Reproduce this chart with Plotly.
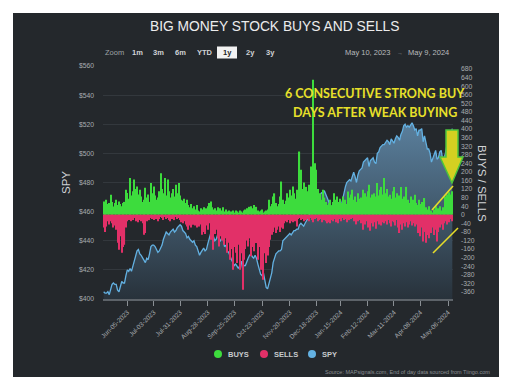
import plotly.graph_objects as go
import pandas as pd
import numpy as np

# ---------------- data ----------------
holidays = ["2023-05-29", "2023-06-19", "2023-07-04", "2023-09-04", "2023-11-23",
            "2023-12-25", "2024-01-01", "2024-01-15", "2024-02-19", "2024-03-29"]
dates = pd.bdate_range("2023-05-10", "2024-05-09")
dates = dates[~dates.isin(pd.to_datetime(holidays))]

tick_dates = ["2023-06-05", "2023-07-03", "2023-07-31", "2023-08-28", "2023-09-25",
              "2023-10-23", "2023-11-20", "2023-12-18", "2024-01-15", "2024-02-12",
              "2024-03-11", "2024-04-08", "2024-05-06"]

spy = [
    # May 2023
    405, 404, 404, 405, 403, 407, 410, 411, 410, 410, 406, 405, 409, 412, 411,
    # Jun
    411, 416, 420, 419, 421, 419, 423, 427, 430, 433, 434, 431, 430, 428, 427, 425, 428, 427, 431, 436, 437,
    # Jul
    437, 436, 434, 432, 433, 435, 437, 441, 444, 446, 445, 444, 446, 447, 448, 446, 447, 449, 450, 451,
    # Aug
    450, 447, 446, 445, 442, 443, 441, 440, 439, 440, 437, 436, 433, 430, 432, 434, 435, 433, 434, 438, 441, 445, 444,
    # Sep
    443, 440, 441, 444, 441, 440, 442, 441, 436, 437, 433, 432, 429, 427, 425, 423, 424, 422, 421, 423,
    # Oct
    426, 421, 423, 423, 426, 428, 430, 431, 429, 428, 430, 428, 424, 420, 417, 416, 418, 413, 408, 407, 411, 414,
    # Nov
    418, 425, 429, 431, 432, 433, 433, 434, 440, 441, 442, 443, 444, 445, 444, 446, 447, 447, 448, 448, 451,
    # Dec
    452, 451, 450, 452, 454, 456, 457, 462, 466, 468, 470, 470, 469, 471, 472, 473, 473, 474, 472, 470,
    # Jan 2024
    467, 464, 463, 462, 465, 467, 466, 465, 466, 464, 468, 473, 477, 480, 481, 482, 481, 484, 487, 484, 480,
    # Feb
    485, 488, 489, 490, 494, 495, 496, 497, 491, 495, 496, 497, 494, 493, 500, 501, 504, 505, 506, 506,
    # Mar
    508, 509, 508, 506, 510, 508, 507, 510, 512, 511, 509, 513, 515, 519, 520, 518, 519, 518, 520, 521,
    # Apr
    519, 516, 517, 512, 516, 516, 517, 508, 512, 506, 503, 503, 500, 494, 497, 499, 502, 496, 497, 501, 502, 496,
    # May
    496, 500, 506, 510, 513, 514, 517,
]

buys = [
    62, 47, 70, 50, 55, 93, 60, 39, 55, 70, 45, 62, 50, 40, 55,
    60, 117, 102, 75, 171, 90, 110, 165, 120, 132, 95, 117, 85, 60, 70, 126, 80, 95, 60, 148, 100,
    132, 90, 70, 80, 110, 194, 120, 100, 171, 90, 165, 110, 80, 100, 120, 85, 140, 100, 148, 90,
    70, 65, 75, 55, 70, 45, 35, 50, 30, 40, 25, 45, 20, 15, 30, 25, 35, 20, 30, 40, 55, 62, 35,
    25, 30, 20, 35, 25, 30, 20, 35, 15, 25, 15, 20, 10, 15, 20, 10, 20, 15, 10, 20,
    15, 10, 20, 25, 30, 25, 37, 40, 30, 45, 35, 37, 20, 15, 20, 25, 10, 15, 20, 25, 70, 40,
    50, 85, 100, 55, 40, 50, 85, 155, 70, 50, 65, 100, 80, 117, 90, 132, 100, 75, 117, 85, 295,
    210, 120, 150, 100, 130, 110, 140, 225, 150, 630, 240, 210, 120, 90, 100, 70, 117, 80, 60, 45,
    55, 70, 45, 60, 100, 70, 85, 60, 75, 55, 85, 60, 70, 50, 109, 80, 95, 117, 70, 85, 60,
    100, 75, 80, 62, 117, 100, 85, 110, 140, 80, 95, 70, 100, 85, 148, 90, 117, 130, 95, 171,
    100, 120, 85, 93, 75, 110, 130, 80, 100, 70, 90, 130, 75, 85, 60, 130, 70, 55, 85, 60,
    70, 93, 55, 45, 70, 50, 60, 40, 78, 35, 25, 40, 15, 20, 10, 25, 40, 15, 30, 40, 20, 35,
    30, 85, 95, 90, 105, 95, 110,
]

sells = [
    -60, -80, -55, -30, -45, -30, -40, -60, -50, -70, -130, -163, -100, -177, -150,
    -140, -60, -30, -25, -20, -30, -25, -15, -30, -20, -35, -25, -30, -40, -93, -85, -30, -20, -25, -15, -20,
    -25, -15, -20, -30, -20, -10, -15, -25, -10, -20, -15, -25, -30, -20, -15, -25, -10, -20, -15, -25,
    -35, -40, -30, -45, -55, -70, -50, -60, -47, -35, -50, -60, -40, -55, -45, -93, -80, -90, -50, -70, -40, -117, -60,
    -163, -90, -70, -110, -148, -100, -120, -80, -140, -110, -177, -130, -210, -160, -256, -150, -177, -225, -140, -256,
    -180, -350, -210, -160, -120, -148, -110, -193, -150, -170, -100, -132, -210, -150, -256, -200, -303, -180, -225, -190, -150, -117,
    -93, -80, -60, -85, -70, -55, -80, -60, -65, -40, -30, -35, -25, -40, -30, -35, -25, -30, -55, -20, -15,
    -25, -20, -30, -15, -25, -20, -30, -15, -25, -35, -20, -15, -30, -25, -20, -35, -15, -25, -30, -40,
    -35, -40, -25, -30, -20, -35, -25, -40, -20, -30, -15, -25, -20, -35, -15, -25, -20, -15, -30, -25, -45,
    -30, -25, -40, -35, -70, -45, -30, -60, -50, -75, -40, -55, -35, -65, -30, -45, -25, -50, -35, -40,
    -30, -45, -25, -40, -55, -30, -35, -50, -25, -60, -85, -45, -70, -40, -55, -35, -60, -45, -30, -50,
    -40, -55, -45, -85, -70, -100, -60, -125, -80, -130, -95, -110, -75, -85, -60, -95, -70, -125, -80, -60, -45, -70,
    -40, -30, -45, -25, -35, -20, -30,
]

spy_ticks = [400, 420, 440, 460, 480, 500, 520, 540, 560]
flow_ticks = list(range(-360, 681, 40))

# ---------------- geometry helpers ----------------
W, H = 520, 383
PL, PR, PT, PB = 103, 453, 66, 299          # plot area in pixels


def px(X):
    return (X - PL) / (PR - PL)


def py(Y):
    return (PB - Y) / (PB - PT)


idx = np.arange(len(dates))
td = pd.to_datetime(tick_dates)
tickvals = []
for d in td:
    p = int(dates.searchsorted(d))
    tickvals.append(p if (p < len(dates) and dates[p] == d) else p - 0.5)
ticktext = [d.strftime("%b-%d-%Y") for d in td]

BG = "#24282c"
GREEN = "#3ddc3d"
RED = "#e23068"
BLUE = "#63b1e2"
LABEL = "#b4b8bc"
FONT = "Liberation Sans, Arial, sans-serif"

fig = go.Figure()
fig.add_trace(go.Scatter(
    x=idx, y=spy, mode="lines", name="SPY", yaxis="y",
    line=dict(color=BLUE, width=1.3),
    fill="tozeroy",
    fillgradient=dict(type="vertical", start=400, stop=525,
                      colorscale=[[0, "#28323b"], [1, "#5c82a0"]]),
    showlegend=False, hoverinfo="skip"))
fig.add_trace(go.Bar(x=idx, y=buys, name="BUYS", yaxis="y2",
                     marker=dict(color=GREEN, line=dict(width=0)), showlegend=False))
fig.add_trace(go.Bar(x=idx, y=sells, name="SELLS", yaxis="y2",
                     marker=dict(color=RED, line=dict(width=0)), showlegend=False))

shapes = []
# dark panel
shapes.append(dict(type="rect", xref="paper", yref="paper", layer="below",
                   x0=px(13), x1=px(499), y0=py(377), y1=py(13),
                   fillcolor=BG, line=dict(width=0)))
# 1y selected pill
shapes.append(dict(type="rect", xref="paper", yref="paper",
                   x0=px(217), x1=px(237), y0=py(58.5), y1=py(46.5),
                   fillcolor="#f2f2f2", line=dict(width=0)))
# yellow guide lines
shapes.append(dict(type="line", xref="paper", yref="paper",
                   x0=px(432), y0=py(210), x1=px(453), y1=py(186),
                   line=dict(color="#e6dc2a", width=1.6)))
shapes.append(dict(type="line", xref="paper", yref="paper",
                   x0=px(433), y0=py(253), x1=px(458), y1=py(228),
                   line=dict(color="#e6dc2a", width=1.6)))
# big arrow
arrow_pts = [(446, 130), (458, 130), (458, 157), (463, 157), (452, 183),
             (440, 157), (446, 157)]
path = "M " + " L ".join(f"{px(a):.4f},{py(b):.4f}" for a, b in arrow_pts) + " Z"
shapes.append(dict(type="path", xref="paper", yref="paper", path=path,
                   fillcolor="#d4d021", line=dict(color="#4cc43c", width=1.5)))
# legend dots
for cx, col in [(218, GREEN), (264, RED), (312, BLUE)]:
    shapes.append(dict(type="circle", xref="paper", yref="paper",
                       x0=px(cx - 4), x1=px(cx + 4), y0=py(358), y1=py(350),
                       fillcolor=col, line=dict(width=0)))

ann = []


def text(x, y, s, size=7.5, color=LABEL, xanchor="center", angle=0, family=FONT, bold=False):
    ann.append(dict(x=px(x), y=py(y), xref="paper", yref="paper", text=(f"<b>{s}</b>" if bold else s),
                    showarrow=False, xanchor=xanchor, yanchor="middle", textangle=angle,
                    font=dict(size=size, color=color, family=family)))


text(274, 26.5, "BIG MONEY STOCK BUYS AND SELLS", size=13.8, color="#ececec")
text(103, 52.5, "Zoom", size=7.5, color="#9ea2a6", xanchor="left")
for lab, cx in [("1m", 137), ("3m", 158), ("6m", 180), ("YTD", 205), ("2y", 250), ("3y", 270)]:
    text(cx, 52.5, lab, size=7.5, color="#d0d3d6", bold=True)
text(227, 52.5, "1y", size=7.5, color="#222222", bold=True)
text(367.5, 52.5, "May 10, 2023", size=7.5, color="#b8bbbe")
text(400, 53, "→", size=6, color="#888c90")
text(428, 52.5, "May 9, 2024", size=7.5, color="#b8bbbe")
text(66, 183, "SPY", size=11.5, color="#d0d3d6", angle=-90)
text(482, 183, "BUYS / SELLS", size=11.5, color="#d0d3d6", angle=90)
text(375, 93, "6 CONSECUTIVE STRONG BUY", size=12.5, color="#e8e02a", family="Lato", bold=True)
text(375, 112, "DAYS AFTER WEAK BUYING", size=12.5, color="#e8e02a", family="Lato", bold=True)
text(226, 354, "BUYS", size=7.5, color="#c8cbce", xanchor="left", bold=True)
text(272, 354, "SELLS", size=7.5, color="#c8cbce", xanchor="left", bold=True)
text(320, 354, "SPY", size=7.5, color="#c8cbce", xanchor="left", bold=True)
text(492, 372, "Source: MAPsignals.com, End of day data sourced from Tiingo.com",
     size=5.5, color="#8a8e92", xanchor="right")

fig.update_layout(
    width=W, height=H,
    margin=dict(l=PL, r=W - PR, t=PT, b=H - PB, pad=0),
    paper_bgcolor="white", plot_bgcolor="rgba(0,0,0,0)",
    barmode="relative", bargap=0.18,
    showlegend=False, hovermode=False,
    shapes=shapes, annotations=ann,
    font=dict(family=FONT, color=LABEL, size=7),
    xaxis=dict(range=[-0.5, len(dates) - 0.5], tickmode="array", tickvals=tickvals,
               ticktext=ticktext, tickangle=-45, tickfont=dict(size=6.5, color="#a8acb0"),
               ticks="outside", ticklen=5, tickcolor="#8a8f94", tickwidth=1,
               showline=True, linecolor="#5d6369", linewidth=2,
               showgrid=False, zeroline=False, fixedrange=True),
    yaxis=dict(range=[400, 560], tickmode="array", tickvals=spy_ticks,
               ticktext=[f"${v}" for v in spy_ticks], tickfont=dict(size=6.8, color="#a8acb0"),
               ticklabelstandoff=8, showgrid=True, gridcolor="#33383d", gridwidth=1,
               zeroline=False, showline=False, fixedrange=True),
    yaxis2=dict(range=[-393, 694], overlaying="y", side="right", tickmode="array",
                tickvals=flow_ticks, ticktext=[str(v) for v in flow_ticks],
                tickfont=dict(size=6.8, color="#a8acb0"), ticklabelstandoff=7,
                showgrid=False, zeroline=False, showline=False, fixedrange=True),
)

fig.write_html("out.html", config={"displayModeBar": False},
               post_script="document.body.style.margin='0px';")
